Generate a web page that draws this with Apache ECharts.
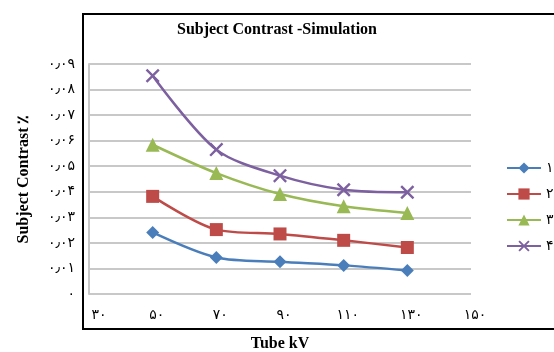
<!DOCTYPE html>
<html>
<head>
<meta charset="utf-8">
<script src="https://cdn.jsdelivr.net/npm/echarts@6/dist/echarts.min.js"></script>
<style>html,body{margin:0;padding:0;background:#fff}#c{width:554px;height:352px}</style>
</head>
<body>
<div id="c"></div>
<script>
const kv = [50, 70, 90, 110, 130];
const series1 = [0.0241, 0.0143, 0.0126, 0.0112, 0.0092];
const series2 = [0.0382, 0.0252, 0.0235, 0.0210, 0.0182];
const series3 = [0.0584, 0.0473, 0.0391, 0.0343, 0.0317];
const series4 = [0.0854, 0.0565, 0.0463, 0.0408, 0.0398];
const seriesNames = ['۱', '۲', '۳', '۴'];
const titleText = 'Subject Contrast -Simulation';
const xName = 'Tube kV';
const yName = 'Subject Contrast ٪';

const fa = s => String(s).replace(/[0-9]/g, d => '۰۱۲۳۴۵۶۷۸۹'[+d]).replace('.', '٫');
const colors = ['#4A7EBB', '#BE4B48', '#98B954', '#7D60A0'];
const xSym = 'path://M0,1.2L1.2,0L5,3.8L8.8,0L10,1.2L6.2,5L10,8.8L8.8,10L5,6.2L1.2,10L0,8.8L3.8,5Z';
const symbols = ['diamond', 'rect', 'triangle', xSym];
const sizes = [13, 13, 14, 14];
const datas = [series1, series2, series3, series4];

const chart = echarts.init(document.getElementById('c'));
chart.setOption({
  animation: false,
  title: {
    text: titleText, left: 'center', top: 17,
    textStyle: {fontFamily: 'Liberation Serif', fontWeight: 'bold', fontSize: 16, color: '#000'}
  },
  legend: {
    orient: 'vertical', left: 501, top: 156, itemGap: 12, itemWidth: 34, itemHeight: 14,
    textStyle: {fontFamily: 'DejaVu Sans', fontSize: 14, color: '#000'},
    data: seriesNames
  },
  grid: {left: 89, right: 83, top: 64, bottom: 58, containLabel: false, outerBoundsMode: 'none'},
  xAxis: {
    type: 'value', min: 30, max: 150, interval: 20,
    axisLine: {show: false}, axisTick: {show: false}, splitLine: {show: false},
    axisLabel: {margin: 14, color: '#000',
      formatter: v => (v === 30 ? '{a|' : '{b|') + fa(v) + '}',
      rich: {
        a: {fontFamily: 'DejaVu Sans', fontSize: 14, color: '#000', padding: [0, 0, 0, 20]},
        b: {fontFamily: 'DejaVu Sans', fontSize: 14, color: '#000', padding: [0, 0, 0, 8]}
      }},
    name: xName, nameLocation: 'middle', nameGap: 42,
    nameTextStyle: {fontFamily: 'Liberation Serif', fontWeight: 'bold', fontSize: 16, color: '#000'}
  },
  yAxis: {
    type: 'value', min: 0, max: 0.09, interval: 0.01,
    axisLine: {show: true, lineStyle: {color: '#C8C8C8', width: 2}}, axisTick: {show: false},
    splitLine: {show: true, lineStyle: {color: '#C8C8C8', width: 2}},
    axisLabel: {margin: 14, fontFamily: 'DejaVu Sans', fontSize: 14, color: '#000',
      formatter: v => v === 0 ? '۰' : fa((Math.round(v * 100) / 100).toFixed(2))},
    name: yName, nameLocation: 'middle', nameGap: 57, nameRotate: 90,
    nameTextStyle: {fontFamily: 'Liberation Serif', fontWeight: 'bold', fontSize: 16, color: '#000'}
  },
  graphic: [
    {type: 'line', shape: {x1: 83, y1: 14, x2: 83, y2: 329}, style: {stroke: '#000', lineWidth: 2}},
    {type: 'line', shape: {x1: 82, y1: 14, x2: 554, y2: 14}, style: {stroke: '#000', lineWidth: 2}},
    {type: 'line', shape: {x1: 82, y1: 329, x2: 554, y2: 329}, style: {stroke: '#000', lineWidth: 2}}
  ],
  series: datas.map((d, i) => ({
    name: seriesNames[i], type: 'line', smooth: 0.3,
    data: kv.map((k, j) => [k, d[j]]),
    symbol: symbols[i], symbolSize: sizes[i],
    itemStyle: {color: colors[i]},
    lineStyle: {color: colors[i], width: 2.5}
  }))
});
</script>
</body>
</html>
